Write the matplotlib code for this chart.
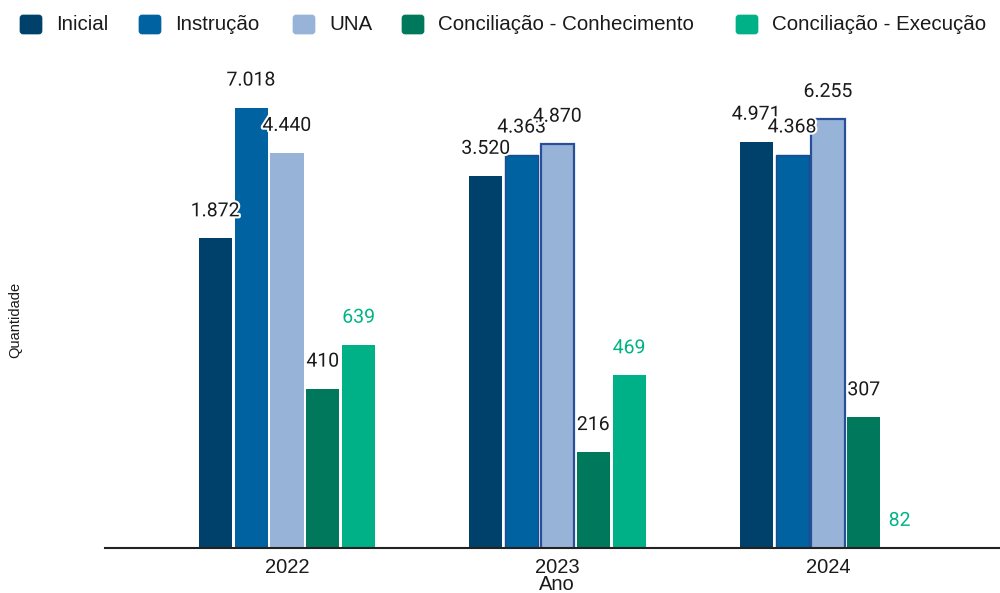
import matplotlib
matplotlib.use("Agg")
import matplotlib.pyplot as plt
import matplotlib.patheffects as pe
from matplotlib.patches import FancyBboxPatch
import numpy as np

years = ["2022", "2023", "2024"]
series = ["Inicial", "Instrução", "UNA", "Conciliação - Conhecimento", "Conciliação - Execução"]
inicial = [1872, 3520, 4971]
instrucao = [7018, 4363, 4368]
una = [4440, 4870, 6255]
conc_conhecimento = [410, 216, 307]
conc_execucao = [639, 469, 82]
labels_txt = [
    ["1.872", "3.520", "4.971"],
    ["7.018", "4.363", "4.368"],
    ["4.440", "4.870", "6.255"],
    ["410", "216", "307"],
    ["639", "469", "82"],
]

colors = ["#00416b", "#0062a0", "#97b4d8", "#00785c", "#00b087"]
label_colors = ["#1a1a1a", "#1a1a1a", "#1a1a1a", "#1a1a1a", "#00b386"]
edge_styles = [
    [None, None, None],
    [None, ("#1d4a8c", 1.0), ("#1d4a8c", 1.0)],
    [None, ("#2a4f9a", 1.6), ("#2a4f9a", 1.6)],
    [None, None, None],
    [None, None, None],
]

data = [inicial, instrucao, una, conc_conhecimento, conc_execucao]

fig = plt.figure(figsize=(10, 5.93), dpi=100)
ax = fig.add_axes([0.105, 45 / 593, 0.895, 458 / 593])
ax.set_yscale("log")
ymin = 82
ymax = ymin * 10 ** (458 / 227.9)

x = np.arange(len(years))
pitch = 0.1325
width = 0.122
for i, (name, vals) in enumerate(zip(series, data)):
    xs = x + (i - 2) * pitch
    bars = ax.bar(xs, vals, width=width, color=colors[i], label=name, zorder=2)
    for j, b in enumerate(bars):
        es = edge_styles[i][j]
        if es is not None:
            b.set_edgecolor(es[0])
            b.set_linewidth(es[1])
    for j, (xx, v) in enumerate(zip(xs, vals)):
        t = ax.annotate(labels_txt[i][j], (xx, v), xytext=(0, 19.5),
                        textcoords="offset points", ha="center", va="center",
                        fontsize=14, family="Roboto", color=label_colors[i],
                        zorder=5, annotation_clip=False)
        t.set_path_effects([pe.withStroke(linewidth=3, foreground="white")])

ax.set_ylim(ymin, ymax)
ax.set_xlim((105 - 287) / 270.5, (1000 - 287) / 270.5)
ax.set_xticks(x)
ax.set_xticklabels(years, fontsize=14.5, family="Liberation Sans", color="#1a1a1a")
ax.tick_params(axis="x", length=0, pad=7)
ax.set_yticks([])
ax.yaxis.set_minor_locator(matplotlib.ticker.NullLocator())
for s in ["left", "top", "right"]:
    ax.spines[s].set_visible(False)
ax.spines["bottom"].set_color("#222222")
ax.spines["bottom"].set_linewidth(1.5)
ax.spines["bottom"].set_zorder(3)

fig.text(0.015, 1 - 320 / 593, "Quantidade", rotation=90, ha="center", va="center",
         fontsize=10.5, family="Liberation Sans", color="#1a1a1a")
fig.text(0.557, 1 - 585 / 593, "Ano", ha="center", va="center",
         fontsize=14.5, family="Liberation Sans", color="#1a1a1a")

# legend (rounded square markers + labels)
leg_square_x = [20, 139, 293, 402, 736]
W, H = 1000.0, 593.0
for sx, c, s in zip(leg_square_x, colors, series):
    p = FancyBboxPatch(((sx + 1.5) / W, 1 - 32.5 / H), 19 / W, 16 / H,
                       boxstyle="round,pad=0.0015,rounding_size=0.003",
                       transform=fig.transFigure, facecolor=c, edgecolor=c,
                       linewidth=0.5, mutation_aspect=W / H)
    fig.add_artist(p)
    fig.text((sx + 36) / W, 1 - 25 / H, s, ha="left", va="center",
             fontsize=14.8, family="Liberation Sans", color="#1a1a1a")

fig.savefig("out.png", dpi=100)
